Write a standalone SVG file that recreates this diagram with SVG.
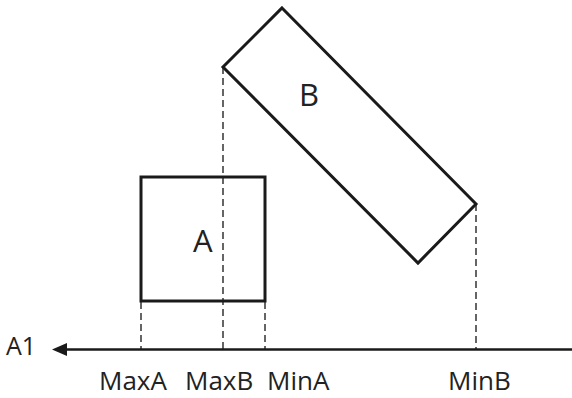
<svg xmlns="http://www.w3.org/2000/svg" width="572" height="398" viewBox="0 0 572 398">
<defs>
<style>
.shape{fill:none;stroke:#1a1a1a;stroke-width:3;stroke-linejoin:miter}
.dash{fill:none;stroke:#333;stroke-width:1.5;stroke-dasharray:7 4}
.axis{fill:none;stroke:#1a1a1a;stroke-width:2.5}
.lbl{font-family:"Open Sans","Liberation Sans",sans-serif;font-size:26px;fill:#222}
.big{font-family:"Open Sans","Liberation Sans",sans-serif;font-size:31px;fill:#222}
</style>
</defs>
<rect width="572" height="398" fill="#fff"/>
<g id="connectors">
<line class="dash" x1="223" y1="67" x2="223" y2="349"/>
<line class="dash" x1="141" y1="302" x2="141" y2="349"/>
<line class="dash" x1="265" y1="302" x2="265" y2="349"/>
<line class="dash" x1="476" y1="204" x2="476" y2="349"/>
<line class="axis" x1="572" y1="349.5" x2="64" y2="349.5"/>
<path d="M52,349.5 L67,343 L67,356 Z" fill="#1a1a1a"/>
</g>
<g id="nodeA">
<rect class="shape" x="141" y="177" width="124" height="124"/>
<text class="big" x="193" y="252">A</text>
</g>
<g id="nodeB">
<polygon class="shape" points="282,8 476,204 418,263 223,67"/>
<text class="big" x="299" y="106">B</text>
</g>
<g id="labels">
<text class="lbl" style="font-size:25px" x="6" y="355">A1</text>
<text class="lbl" x="99" y="390">MaxA</text>
<text class="lbl" x="185" y="390">MaxB</text>
<text class="lbl" x="267" y="390">MinA</text>
<text class="lbl" x="448" y="390">MinB</text>
</g>
</svg>
